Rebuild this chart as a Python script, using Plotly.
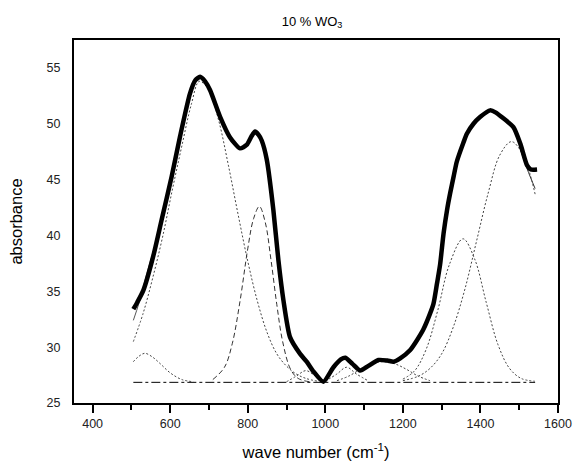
import plotly.graph_objects as go

# ---- data ----
main_x = [505, 515, 531, 556, 578, 604, 625, 651, 665, 677, 690, 703, 729, 754, 780, 797, 810, 819, 828,
          836, 849, 866, 879, 892, 909, 935, 952, 970, 995, 1021, 1040, 1052, 1070, 1090, 1110, 1137, 1160,
          1176, 1193, 1219, 1236, 1253, 1270, 1279, 1288, 1296, 1305, 1314, 1322, 1331, 1339, 1356, 1365,
          1382, 1399, 1425, 1440, 1455, 1485, 1503, 1520, 1530, 1546]
main_y = [33.4, 34.0, 35.1, 38.1, 41.4, 45.3, 48.8, 52.7, 53.9, 54.2, 53.8, 53.0, 50.6, 48.8, 47.8, 48.1, 48.9, 49.3, 49.0,
          48.5, 46.8, 42.3, 37.8, 34.2, 30.9, 29.4, 28.7, 27.8, 26.9, 28.2, 28.9, 29.05, 28.5, 27.9, 28.3, 28.85, 28.8,
          28.7, 29.0, 29.75, 30.6, 31.6, 33.0, 33.9, 35.7, 37.4, 40.2, 42.3, 43.8, 45.3, 46.6, 48.3, 49.1,
          50.0, 50.6, 51.2, 51.0, 50.6, 49.7, 48.2, 46.3, 45.9, 45.9]

fit_x = [505, 520, 540, 560, 580, 1500, 1520, 1541]
fit_y = [32.4, 34.0, 36.6, 39.0, 41.2, 48.0, 46.0, 44.2]

base_x = [505, 1541]
base_y = [26.85, 26.85]

c1_x = [505, 520, 535, 555, 575, 600, 630, 660]
c1_y = [28.7, 29.2, 29.45, 29.1, 28.5, 27.7, 27.1, 26.9]

c2_x = [505, 530, 555, 580, 605, 630, 655, 675, 700, 725, 750, 775, 800, 825, 850, 875, 900, 925, 950, 980]
c2_y = [30.5, 33.0, 36.2, 39.8, 44.0, 48.0, 51.8, 53.8, 53.0, 50.3, 46.3, 41.9, 37.7, 34.1, 31.3, 29.4, 28.3, 27.6, 27.2, 26.95]

c3_x = [710, 740, 760, 780, 800, 815, 830, 845, 860, 875, 890, 910, 930, 960]
c3_y = [27.1, 28.2, 30.3, 34.1, 38.8, 41.5, 42.6, 41.2, 37.8, 33.8, 30.5, 28.05, 27.2, 26.9]

c4_x = [900, 925, 950, 975, 1000]
c4_y = [26.9, 27.4, 27.9, 27.4, 26.95]

c5_x = [1000, 1030, 1055, 1080, 1110]
c5_y = [26.95, 27.6, 28.2, 27.6, 27.0]

c6_x = [1030, 1060, 1090, 1120, 1150, 1180, 1210, 1240, 1270]
c6_y = [27.0, 27.4, 28.0, 28.5, 28.7, 28.5, 28.0, 27.4, 27.0]

c7_x = [1200, 1230, 1260, 1290, 1320, 1355, 1385, 1415, 1445, 1475, 1505, 1540]
c7_y = [27.14, 27.87, 29.8, 33.3, 37.4, 39.7, 37.9, 34.0, 30.25, 28.1, 27.2, 26.95]

c8_x = [1200, 1240, 1270, 1300, 1330, 1360, 1390, 1420, 1450, 1480, 1510, 1541]
c8_y = [27.0, 27.4, 28.1, 29.4, 31.8, 35.2, 39.5, 43.8, 47.2, 48.4, 47.2, 43.7]

x_ticks = [400, 600, 800, 1000, 1200, 1400, 1600]
y_ticks = [25, 30, 35, 40, 45, 50, 55]

fig = go.Figure()

def comp(x, y, dash="dot", color="#444", width=1):
    fig.add_trace(go.Scatter(x=x, y=y, mode="lines", line=dict(color=color, width=width, dash=dash, shape="spline"),
                             showlegend=False, hoverinfo="skip"))

fig.add_trace(go.Scatter(x=base_x, y=base_y, mode="lines", line=dict(color="black", width=1, dash="dashdot"),
                         showlegend=False))
comp(c1_x, c1_y, dash="2px,2px")
comp(c2_x, c2_y, dash="2px,2px")
comp(c3_x, c3_y, dash="5px,3px", color="#333")
comp(c4_x, c4_y, dash="2px,2px")
comp(c5_x, c5_y, dash="2px,2px")
comp(c6_x, c6_y, dash="2px,2px")
comp(c7_x, c7_y, dash="2px,2px")
comp(c8_x, c8_y, dash="2px,2px")
comp(fit_x[:5], fit_y[:5], dash="solid", color="#555", width=1)
comp(fit_x[5:], fit_y[5:], dash="solid", color="#333", width=1)

fig.add_trace(go.Scatter(x=main_x, y=main_y, mode="lines",
                         line=dict(color="black", width=4.5, shape="spline", smoothing=0.6),
                         showlegend=False))

font = "Liberation Sans, Arial, sans-serif"
tickfont = dict(family=font, size=12.5, color="#222")
fig.update_layout(
    width=574, height=461,
    margin=dict(l=74, r=16, t=40, b=58),
    paper_bgcolor="white", plot_bgcolor="white",
    font=dict(family=font, color="black", size=11),
    title=dict(text="10 % WO<sub>3</sub>", x=0.5436, xanchor="center", y=0.954, yanchor="middle",
               font=dict(size=13, family=font, color="black")),
    xaxis=dict(range=[352, 1600], tickvals=x_ticks, ticks="outside", ticklen=8, tickwidth=1.5,
               tickcolor="black", showline=True, linecolor="black", linewidth=2, mirror=True,
               showgrid=False, zeroline=False, tickfont=tickfont, automargin=False,
               minor=dict(ticks="outside", ticklen=5, tickwidth=1.5, tickcolor="black", dtick=100, tick0=400,
                          showgrid=False),
               title=dict(text="wave number (cm<sup>-1</sup>)", font=dict(size=16.5), standoff=16)),
    yaxis=dict(range=[25, 57.5], tickvals=y_ticks, ticks="", showline=True, linecolor="black", linewidth=2,
               mirror=True, showgrid=False, zeroline=False, ticklabelstandoff=9, tickfont=tickfont,
               automargin=False,
               title=dict(text="absorbance", font=dict(size=16.5), standoff=20)),
)

fig.write_html("out.html", config={"displayModeBar": False},
               post_script="document.body.style.margin='0';document.body.style.overflow='hidden';")
